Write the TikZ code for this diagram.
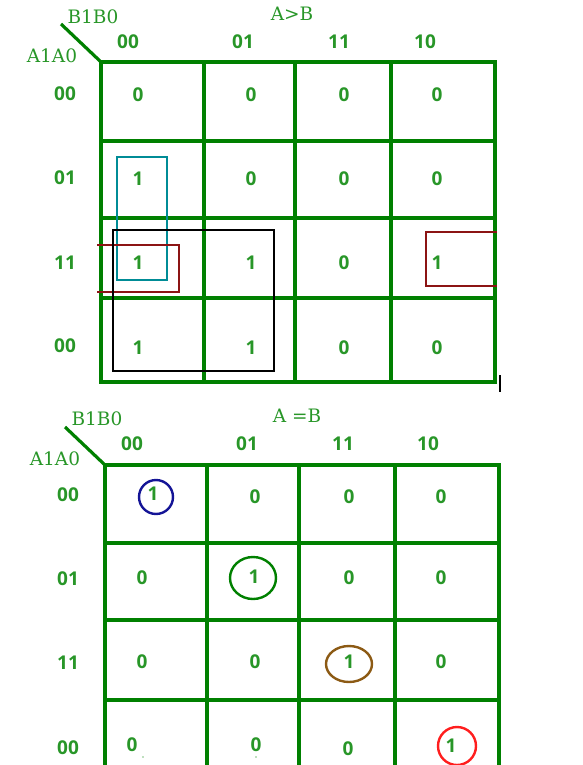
\documentclass[tikz,border=0pt]{standalone}
\usepackage{fontspec}
\setmainfont{Open Sans}
\newfontfamily\labserif{DejaVu Serif}
\definecolor{gridgreen}{RGB}{0,128,0}
\definecolor{textgreen}{RGB}{40,150,40}
\definecolor{tealbox}{RGB}{0,140,150}
\definecolor{darkredbox}{RGB}{140,20,20}
\definecolor{navyring}{RGB}{20,20,150}
\definecolor{brownring}{RGB}{140,90,20}
\definecolor{redring}{RGB}{255,30,30}
\begin{document}
\begin{tikzpicture}[x=1pt,y=-1pt,
  num/.style={text=textgreen,font=\bfseries\fontsize{19}{19}\selectfont,inner sep=0pt},
  lab/.style={text=textgreen,font=\labserif\fontsize{18.5}{18.5}\selectfont,inner sep=0pt},
  gridline/.style={draw=gridgreen,line width=3.2pt},
  groupbox/.style={line width=2.5pt}]
\useasboundingbox (0,0) rectangle (582,765);

% ---------- top map (A>B) ----------
\draw[gridline] (101,62) rectangle (495,382);
\foreach \x in {204,295,391} \draw[gridline] (\x,62) -- (\x,382);
\foreach \y in {141,218,298} \draw[gridline] (101,\y) -- (495,\y);
\coordinate (tdA) at (61,24);
\coordinate (tdB) at (101,62);
\draw[gridline] (tdA) -- (tdB);
\node[lab] (tB) at (93,17) {B1B0};
\node[lab] (tA) at (52,56) {A1A0};
\node[lab] (ttitle) at (292,14) {A>B};
\foreach \t/\x [count=\i] in {00/128,01/243,11/339,10/425}
  \node[num] (tch\i) at (\x,42) {\t};
\foreach \t/\y [count=\i] in {00/94,01/178,11/263,00/346}
  \node[num] (trh\i) at (65,\y) {\t};
% cell values
\foreach \r/\y/\va/\vb/\vc/\vd in {1/95/0/0/0/0, 2/179/1/0/0/0, 3/263/1/1/0/1, 4/348/1/1/0/0}{
  \node[num] (tc\r a) at (138,\y) {\va};
  \node[num] (tc\r b) at (251,\y) {\vb};
  \node[num] (tc\r c) at (344,\y) {\vc};
  \node[num] (tc\r d) at (437,\y) {\vd};
}
% groupings
\draw[groupbox,draw=tealbox] (117,157) rectangle (167,280);
\draw[groupbox,draw=darkredbox] (97,245) -- (179,245) -- (179,292) -- (97,292);
\draw[groupbox,draw=black] (113,230) rectangle (274,371);
\draw[groupbox,draw=darkredbox] (497,232) -- (426,232) -- (426,286) -- (497,286);
\draw[line width=1.2pt] (500,375) -- (500,392);

% ---------- bottom map (A=B) ----------
\draw[gridline] (105,765) -- (105,465) -- (499,465) -- (499,765);
\foreach \x in {207,299,395} \draw[gridline] (\x,465) -- (\x,765);
\foreach \y in {543,620,700} \draw[gridline] (105,\y) -- (499,\y);
\coordinate (bdA) at (65,427);
\coordinate (bdB) at (105,465);
\draw[gridline] (bdA) -- (bdB);
\node[lab] (bB) at (97,419) {B1B0};
\node[lab] (bA) at (55,459) {A1A0};
\node[lab] (btitle) at (297,416) {A =B};
\foreach \t/\x [count=\i] in {00/132,01/247,11/343,10/428}
  \node[num] (bch\i) at (\x,444) {\t};
\foreach \t/\y [count=\i] in {00/495,01/579,11/663,00/748}
  \node[num] (brh\i) at (68,\y) {\t};
% row 1
\node[num] (bc1a) at (153,494) {1};
\node[num] (bc1b) at (255,497) {0};
\node[num] (bc1c) at (349,497) {0};
\node[num] (bc1d) at (441,497) {0};
% row 2
\node[num] (bc2a) at (142,578) {0};
\node[num] (bc2b) at (254,577) {1};
\node[num] (bc2c) at (349,578) {0};
\node[num] (bc2d) at (441,578) {0};
% row 3
\node[num] (bc3a) at (142,662) {0};
\node[num] (bc3b) at (255,662) {0};
\node[num] (bc3c) at (349,662) {1};
\node[num] (bc3d) at (441,662) {0};
% row 4
\node[num] (bc4a) at (132,745) {0};
\node[num] (bc4b) at (256,745) {0};
\node[num] (bc4c) at (348,749) {0};
\node[num] (bc4d) at (451,746) {1};
\fill[textgreen!60] (143,757) circle (0.9);
\fill[textgreen!60] (256,757) circle (0.9);
% rings
\draw[line width=2.4pt,navyring] (156,497) circle (17);
\draw[line width=2.4pt,gridgreen] (253,578) ellipse (23 and 21);
\draw[line width=2.4pt,brownring] (349,664) ellipse (23 and 18);
\draw[line width=2.4pt,redring] (457,746) ellipse (19 and 19);
\end{tikzpicture}
\end{document}
